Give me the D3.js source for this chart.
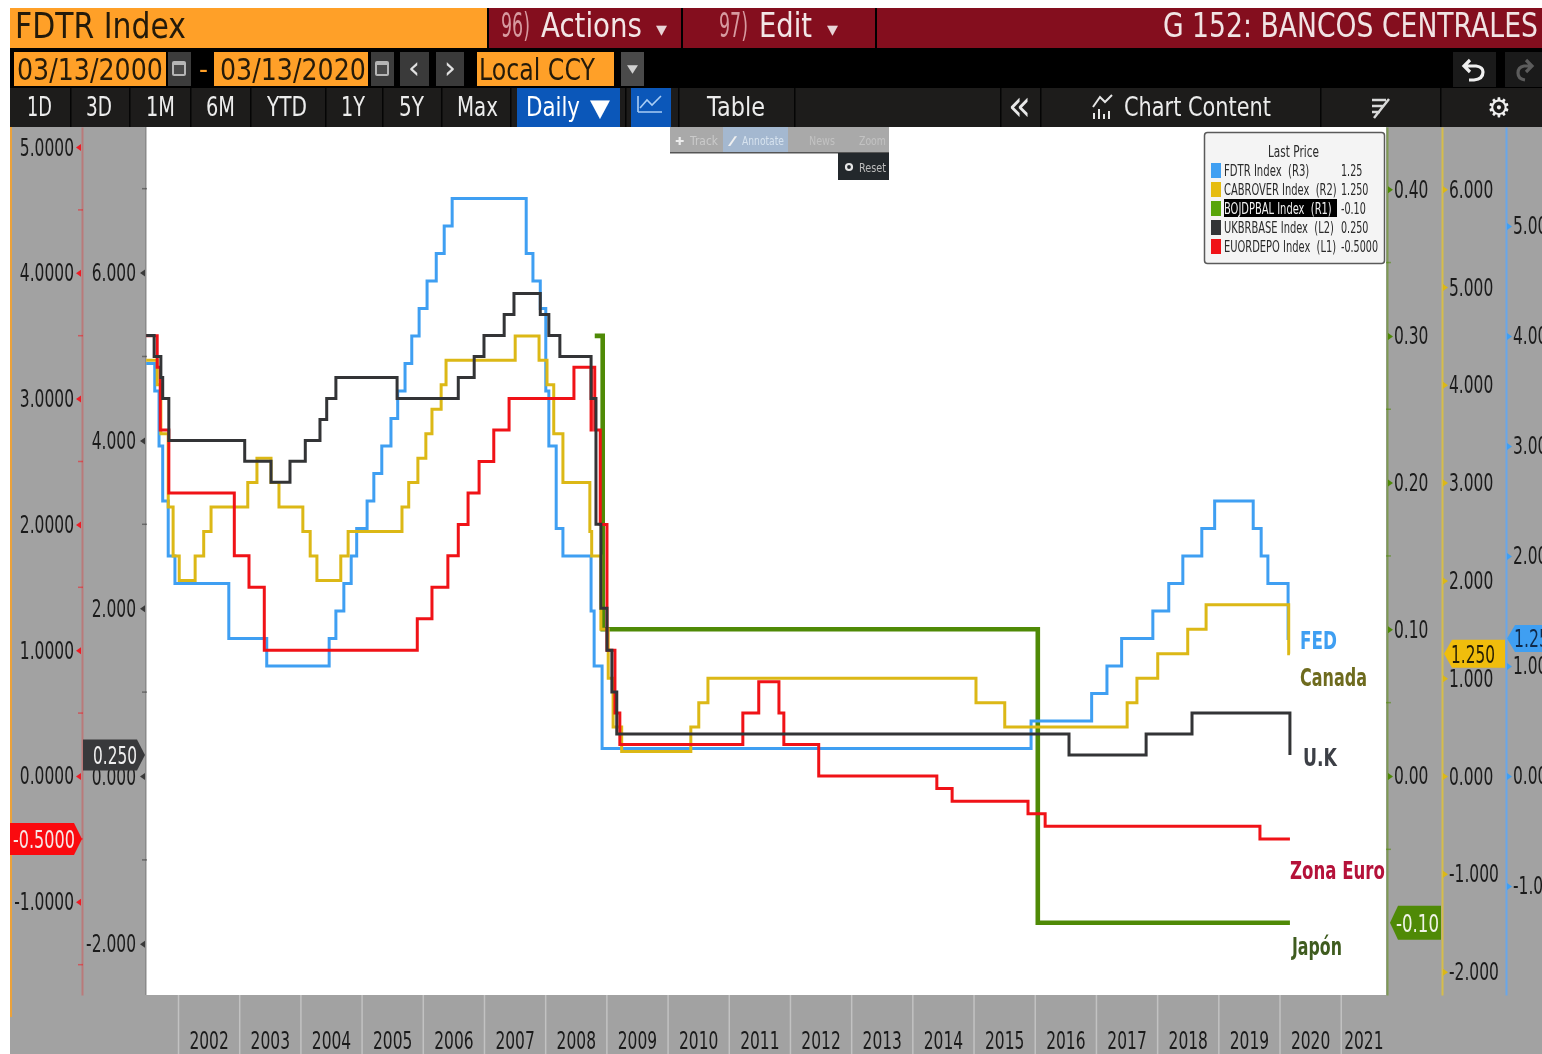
<!DOCTYPE html>
<html>
<head>
<meta charset="utf-8">
<title>G 152: BANCOS CENTRALES</title>
<script src="https://cdn.jsdelivr.net/npm/d3@7"></script>
<style>
  html, body { margin: 0; padding: 0; background: #fff; overflow: hidden; }
  svg { display: block; }
  text { font-family: "DejaVu Sans", sans-serif; white-space: pre; }
</style>
</head>
<body>
<svg id="chart" width="1542" height="1054"></svg>
<script>
// Policy rates, [decimal year, rate from that moment on].
const fedSteps = [[2001.48,3.75],[2001.62,3.5],[2001.69,3],[2001.75,2.5],[2001.84,2],[2001.95,1.75],[2002.83,1.25],[2003.45,1],
  [2004.47,1.25],[2004.58,1.5],[2004.71,1.75],[2004.83,2],[2004.92,2.25],[2005.09,2.5],[2005.2,2.75],[2005.33,3],[2005.48,3.25],
  [2005.59,3.5],[2005.71,3.75],[2005.82,4],[2005.94,4.25],[2006.07,4.5],[2006.22,4.75],[2006.35,5],[2006.48,5.25],[2007.69,4.75],
  [2007.8,4.5],[2007.92,4.25],[2008.01,3.5],[2008.06,3],[2008.18,2.25],[2008.29,2],[2008.75,1.5],[2008.8,1],[2008.93,0.25],
  [2015.94,0.5],[2016.93,0.75],[2017.18,1],[2017.42,1.25],[2017.93,1.5],[2018.19,1.75],[2018.42,2],[2018.73,2.25],[2018.94,2.5],
  [2019.57,2.25],[2019.7,2],[2019.81,1.75],[2020.14,1.25],[2020.17,1.25]];
const canadaSteps = [[2001.48,4.25],[2001.66,4],[2001.72,3.5],[2001.84,2.75],[2001.92,2.25],[2002.02,2],[2002.28,2.25],[2002.42,2.5],
  [2002.54,2.75],[2003.14,3],[2003.29,3.25],[2003.52,3],[2003.65,2.75],[2004.04,2.5],[2004.16,2.25],[2004.27,2],[2004.66,2.25],
  [2004.78,2.5],[2005.66,2.75],[2005.77,3],[2005.92,3.25],[2006.05,3.5],[2006.15,3.75],[2006.3,4],[2006.38,4.25],[2007.51,4.5],
  [2007.9,4.25],[2008.03,4],[2008.14,3.5],[2008.29,3],[2008.73,2.5],[2008.76,2.25],[2008.91,1.5],[2009.03,1],[2009.11,0.5],
  [2009.25,0.25],[2010.38,0.5],[2010.51,0.75],[2010.66,1],[2015.04,0.75],[2015.51,0.5],[2017.51,0.75],[2017.67,1],[2018.01,1.25],
  [2018.5,1.5],[2018.8,1.75],[2020.15,1.25],[2020.17,1.25]];
const japanSteps = [[2008.81,0.3],[2008.94,0.1],[2016.05,-0.1],[2020.17,-0.1]];
const ukSteps = [[2001.48,5.25],[2001.61,5],[2001.72,4.75],[2001.75,4.5],[2001.85,4],[2003.09,3.75],[2003.52,3.5],[2003.83,3.75],
  [2004.08,4],[2004.32,4.25],[2004.43,4.5],[2004.58,4.75],[2005.58,4.5],[2006.58,4.75],[2006.84,5],[2007,5.25],[2007.33,5.5],
  [2007.49,5.75],[2007.92,5.5],[2008.06,5.25],[2008.24,5],[2008.75,4.5],[2008.83,3],[2008.91,2],[2009.01,1.5],[2009.09,1],
  [2009.17,0.5],[2016.56,0.25],[2017.82,0.5],[2018.57,0.75],[2020.17,0.25]];
const euroSteps = [[2001.48,3.5],[2001.66,3.25],[2001.71,2.75],[2001.85,2.25],[2002.92,1.75],[2003.16,1.5],[2003.41,1],[2005.91,1.25],
  [2006.15,1.5],[2006.41,1.75],[2006.58,2],[2006.74,2.25],[2006.92,2.5],[2007.16,2.75],[2007.41,3],[2008.47,3.25],[2008.75,2.75],
  [2008.755,3.25],[2008.81,2.75],[2008.9,2],[2009.01,1],[2009.14,0.5],[2009.22,0.25],[2011.23,0.5],[2011.49,0.75],[2011.82,0.5],
  [2011.9,0.25],[2012.47,0],[2014.4,-0.1],[2014.65,-0.2],[2015.89,-0.3],[2016.17,-0.4],[2019.68,-0.5],[2020.17,-0.5]];

// Tick labels of the axes
const years = d3.range(2002, 2022);
const euroTicks = [5, 4, 3, 2, 1, 0, -1];
const euroMinor = [4.5, 3.5, 2.5, 1.5, 0.5, -0.5, -1.5];
const ukTicks = [6, 4, 2, 0, -2];
const ukMinor = [7, 5, 3, 1, -1];
const japanTicks = [0.4, 0.3, 0.2, 0.1, 0];
const japanMinor = [0.35, 0.25, 0.15, 0.05, -0.05];
const canadaTicks = [6, 5, 4, 3, 2, 1, 0, -1, -2];
const fedTicks = [5, 4, 3, 2, 1, 0, -1];

// Legend rows
const legendNames = ["FDTR Index  (R3)", "CABROVER Index  (R2)", "BOJDPBAL Index  (R1)", "UKBRBASE Index  (L2)", "EUORDEPO Index  (L1)"];
const legendLast = ["1.25", "1.250", "-0.10", "0.250", "-0.5000"];

const fedColor = "#3f9ff2", canadaColor = "#dcb816", japanColor = "#4f8a06", ukColor = "#333436", euroColor = "#f01217";
const legendColors = [fedColor, "#e6bc10", "#58a50a", ukColor, euroColor];

const plot = { left: 146, right: 1386, top: 127, bottom: 995 };
const panelGray = "#a2a2a2";
const xScale = d3.scaleLinear().domain([2001.477, 2021.74]).range([plot.left, plot.right]);
const yRange = [plot.bottom, plot.top];
const yEuro = d3.scaleLinear().domain([-1.741, 5.159]).range(yRange);
const yUk = d3.scaleLinear().domain([-2.61, 7.735]).range(yRange);
const yJapan = d3.scaleLinear().domain([-0.1493, 0.4424]).range(yRange);
const yCanada = d3.scaleLinear().domain([-2.239, 6.636]).range(yRange);
const yFed = d3.scaleLinear().domain([-1.991, 5.9]).range(yRange);

const svg = d3.select("#chart");
const root = svg.append("g").style("filter", "blur(0.55px)");

function box(x, y, w, h, fill) {
  return root.append("rect").attr("x", x).attr("y", y).attr("width", w).attr("height", h).attr("fill", fill);
}

// the original font is a squeezed one: narrow each text around its own x
function squeeze(sel, ratio) {
  sel.each(function () {
    const x = +this.getAttribute("x") || 0;
    this.setAttribute("transform", `translate(${x * (1 - ratio)},0) scale(${ratio},1)`);
  });
}

// text forced to an exact width
function label(parent, str, x, y, size, width, color, weight) {
  const t = parent.append("text").attr("x", x).attr("y", y).attr("font-size", size)
    .attr("fill", color).attr("font-weight", weight || "normal").text(str);
  squeeze(t, width / t.node().getComputedTextLength());
  return t;
}

// panels and plot area
box(10, 127, 1532, 927, panelGray);
box(plot.left, plot.top, plot.right - plot.left, plot.bottom - plot.top, "#fff");
box(10, 127, 2, 890, "#eca23a");
box(145, 127, 1.5, 868, "#8a8a8a");

// header, first row
box(10, 8, 1532, 40, "#000");
box(10, 8, 477, 40, "#ffa028");
box(489, 8, 192, 40, "#840e1e");
box(683, 8, 192, 40, "#840e1e");
box(877, 8, 665, 40, "#840e1e");
label(root, "FDTR Index", 15, 38, 35, 171, "#241a0a");
label(root, "96)", 501, 37, 33, 29, "#d79aa0");
label(root, "Actions", 541, 37, 34, 101, "#f3e6e6");
label(root, "\u25BE", 656, 36, 20, 11, "#e8d4d6");
label(root, "97)", 719, 37, 33, 29, "#d79aa0");
label(root, "Edit", 759, 37, 34, 53, "#f3e6e6");
label(root, "\u25BE", 827, 36, 20, 11, "#e8d4d6");
label(root, "G 152: BANCOS CENTRALES", 1163, 37, 34, 375, "#f1e4e4");

// header, second row
box(10, 48, 1532, 40, "#000");
box(14, 52, 152, 34, "#ffa028");
box(214, 52, 154, 34, "#ffa028");
box(477, 52, 137, 34, "#ffa028");
label(root, "03/13/2000", 17, 80, 30, 146, "#241a0a");
label(root, "03/13/2020", 220, 80, 30, 146, "#241a0a");
label(root, "Local CCY", 479, 80, 30, 116, "#241a0a");
label(root, "-", 199, 78, 26, 9, "#ffa028");
box(168, 52, 23, 34, "#3c3c3c");
box(371, 52, 23, 34, "#3c3c3c");
box(400, 52, 29, 34, "#3a3a3a");
box(436, 52, 28, 34, "#3a3a3a");
box(621, 52, 23, 34, "#4a4a4a");
box(1453, 52, 43, 35, "#1a1a1a");
box(1505, 52, 37, 35, "#1a1a1a");
[172, 375].forEach(x => {
  root.append("rect").attr("x", x).attr("y", 61).attr("width", 14).attr("height", 15).attr("rx", 2).attr("fill", "#b5b5b5");
  box(x + 2, 65, 10, 9, "#4a4a4a");
});
label(root, "\u2039", 408, 78, 30, 12, "#e0e0e0");
label(root, "\u203A", 444, 78, 30, 12, "#e0e0e0");
label(root, "\u25BE", 627, 74, 17, 11, "#d0d0d0");
root.append("path").attr("d", "M1470 60 L1464 66 L1470 72 M1465 66 H1476 Q1483 67 1483 72 Q1483 79 1474 80 H1469")
  .attr("fill", "none").attr("stroke", "#efefef").attr("stroke-width", 3.2);
root.append("path").attr("d", "M1526 60 L1532 66 L1526 72 M1531 66 H1524 Q1518 67 1518 73 Q1518 79 1525 80")
  .attr("fill", "none").attr("stroke", "#5c5c5c").attr("stroke-width", 3.2);

// header, third row
box(10, 88, 1532, 39, "#1d1c1b");
box(517, 88, 103, 39, "#0b57b9");
box(631, 88, 40, 39, "#0b57b9");
[70, 129, 190, 250, 325, 382, 441, 510, 625, 678, 794, 1000, 1040, 1320, 1440].forEach(x => box(x, 88, 1.5, 39, "#050505"));
label(root, "1D", 27, 116, 27, 25, "#ececec");
label(root, "3D", 86, 116, 27, 26, "#ececec");
label(root, "1M", 146, 116, 27, 29, "#ececec");
label(root, "6M", 206, 116, 27, 29, "#ececec");
label(root, "YTD", 267, 116, 27, 40, "#ececec");
label(root, "1Y", 341, 116, 27, 24, "#ececec");
label(root, "5Y", 399, 116, 27, 25, "#ececec");
label(root, "Max", 457, 116, 27, 41, "#ececec");
label(root, "Daily", 526, 116, 27, 54, "#ffffff");
label(root, "\u25BC", 590, 116, 24, 20, "#ffffff");
label(root, "Table", 707, 116, 27, 58, "#ececec");
label(root, "\u00AB", 1008, 120, 42, 23, "#e8e8e8");
label(root, "Chart Content", 1124, 116, 27, 147, "#ececec");
label(root, "\u2699", 1487, 117, 27, 24, "#f0f0f0");
root.append("path").attr("d", "M638 112 L662 112 M638 112 L638 96 M640 108 L647 100 L652 105 L661 96")
  .attr("fill", "none").attr("stroke", "#a9cdf5").attr("stroke-width", 1.6);
root.append("path").attr("d", "M1093 107 L1100 97 L1105 102 L1112 95 M1094 119 V113 M1099 119 V109 M1104 119 V114 M1109 119 V111")
  .attr("fill", "none").attr("stroke", "#e6e6e6").attr("stroke-width", 2);
root.append("path").attr("d", "M1372 100 H1386 M1372 106 H1384 M1372 112 H1380 M1374 118 L1389 99")
  .attr("fill", "none").attr("stroke", "#d8d8d8").attr("stroke-width", 2.5);

// x axis: year boundaries with the label in the middle of each year
const xAxis = d3.axisBottom(xScale).tickValues(years).tickFormat(d3.format("d")).tickSize(59).tickPadding(0);
const xAxisG = root.append("g").attr("transform", `translate(0,${plot.bottom})`).call(xAxis);
xAxisG.select(".domain").remove();
xAxisG.selectAll(".tick line").attr("stroke", "#c2c2c2").attr("stroke-width", 1.5);
xAxisG.selectAll(".tick text")
  .attr("x", d => (xScale(Math.min(d + 1, 2021.74)) - xScale(d)) / 2)
  .attr("y", 36).attr("dy", "0.71em")
  .attr("font-size", 25).attr("fill", "#1b1b1b").attr("font-family", "DejaVu Sans");
squeeze(xAxisG.selectAll(".tick text"), 0.62);

// five value axes, the little triangles replace the tick lines
function valueAxis(scale, ticks, minor, x, side, padding, fmt, lineColor, tickColor) {
  const maker = side === "left" ? d3.axisLeft(scale) : d3.axisRight(scale);
  const format = d3.format(fmt);
  maker.tickValues(ticks).tickFormat(d => format(d).replace("\u2212", "-")).tickSize(0).tickPadding(padding);
  const g = root.append("g").attr("transform", `translate(${x},0)`).call(maker);
  g.select(".domain").attr("stroke", lineColor).attr("stroke-width", 2);
  g.selectAll(".tick text").attr("font-size", 25).attr("fill", "#1b1b1b").attr("font-family", "DejaVu Sans");
  squeeze(g.selectAll(".tick text"), 0.62);
  const dir = side === "left" ? -1 : 1;
  g.selectAll(".tick").append("path")
    .attr("d", `M${dir * 1} -3.5 L${dir * 6} 0 L${dir * 1} 3.5 Z`).attr("fill", tickColor);
  g.selectAll(".minor").data(minor).enter().append("line")
    .attr("class", "minor")
    .attr("x1", dir * -1).attr("x2", dir * 4)
    .attr("y1", d => scale(d)).attr("y2", d => scale(d))
    .attr("stroke", tickColor).attr("stroke-width", 1.5).attr("opacity", 0.55);
  return g;
}

valueAxis(yEuro, euroTicks, euroMinor, 82, "left", 8, ".4f", "#b97a7a", "#ee1c25");
valueAxis(yUk, ukTicks, ukMinor, 146, "left", 10, ".3f", "none", "#3a3a3a");
valueAxis(yJapan, japanTicks, japanMinor, 1387, "right", 7, ".2f", "#7f9a55", "#4f8a06");
valueAxis(yCanada, canadaTicks, [], 1442, "right", 7, ".3f", "#d6bd4a", "#dcb816");
valueAxis(yFed, fedTicks, [], 1506, "right", 7, ".3f", "#69a6e8", "#3f9ff2");

// step lines: green lies under everything, the UK line ends on top
function stepLine(steps, scale, color, width) {
  const line = d3.line().x(d => xScale(d[0])).y(d => scale(d[1])).curve(d3.curveStepAfter);
  root.append("path").datum(steps).attr("d", line).attr("fill", "none")
    .attr("stroke", color).attr("stroke-width", width).attr("stroke-linejoin", "miter");
}
stepLine(japanSteps, yJapan, japanColor, 4.6);
stepLine(fedSteps, yFed, fedColor, 3);
stepLine(canadaSteps, yCanada, canadaColor, 3);
stepLine(euroSteps, yEuro, euroColor, 3);
stepLine(ukSteps, yUk, ukColor, 3);

// names next to the line ends
label(root, "FED", 1300, 649, 24, 37, fedColor, "bold");
label(root, "Canada", 1300, 686, 24, 67, "#6e6b1e", "bold");
label(root, "U.K", 1303, 766, 24, 34, "#3c3f46", "bold");
label(root, "Zona Euro", 1290, 879, 24, 95, "#b5123a", "bold");
label(root, "Japón", 1292, 955, 24, 50, "#3f5c1f", "bold");

// last value flags
function flag(x0, x1, yMid, h, pointRight, fill, txt, txtX, txtW, txtColor) {
  const top = yMid - h / 2, bot = yMid + h / 2;
  const d = pointRight
    ? `M${x0} ${top} L${x1 - 8} ${top} L${x1} ${yMid} L${x1 - 8} ${bot} L${x0} ${bot} Z`
    : `M${x1} ${top} L${x0 + 8} ${top} L${x0} ${yMid} L${x0 + 8} ${bot} L${x1} ${bot} Z`;
  root.append("path").attr("d", d).attr("fill", fill);
  label(root, txt, txtX, yMid + 9, 25, txtW, txtColor);
}
flag(10, 82, yEuro(-0.5), 32, true, "#fa0a0f", legendLast[4], 13, 62, "#f6e6e6");
flag(83, 145, yUk(0.25), 31, true, "#38393b", legendLast[3], 93, 44, "#f0f0f0");
flag(1390, 1441, yJapan(-0.1), 34, false, "#4f8a06", legendLast[2], 1396, 43, "#f0f4e8");
flag(1444, 1505, yCanada(1.25), 28, false, "#f0bd0c", legendLast[1], 1451, 44, "#231c05");
flag(1507, 1560, yFed(1.25), 27, false, "#3f9ff2", legendLast[0], 1514, 35, "#102a4a");

// little hover toolbar that was caught in the screenshot
box(670, 127, 219, 26, "#a9a9a9");
box(723, 127, 65, 26, "#a4b8d0");
box(670, 152, 219, 1.5, "#555");
label(root, "\u271A", 675, 145, 11, 9, "#ececec");
label(root, "Track", 690, 145, 13, 28, "#cacaca");
label(root, "\u2215", 728, 145, 12, 9, "#f0f0f0");
label(root, "Annotate", 742, 145, 13, 42, "#d6e2ee");
label(root, "News", 809, 145, 13, 26, "#c2c2c2");
label(root, "Zoom", 859, 145, 13, 27, "#c2c2c2");
box(838, 153, 51, 27, "#23282c");
root.append("circle").attr("cx", 849).attr("cy", 167).attr("r", 3).attr("fill", "none").attr("stroke", "#e6e6e6").attr("stroke-width", 2.2);
label(root, "Reset", 859, 172, 13, 27, "#bcbcbc");

// legend box
root.append("rect").attr("x", 1204.5).attr("y", 132.5).attr("width", 180).attr("height", 131).attr("rx", 3)
  .attr("fill", "#f4f4f4").attr("stroke", "#5a5a5a").attr("stroke-width", 1.5);
label(root, "Last Price", 1268, 157, 15, 51, "#2a2a2a");
const legendRow = d3.scaleBand().domain(legendNames).range([161, 256]);
const legendG = root.append("g");
legendG.selectAll(".swatch").data(legendNames).enter().append("rect")
  .attr("class", "swatch").attr("x", 1211).attr("y", d => legendRow(d) + 2).attr("width", 10).attr("height", 15)
  .attr("fill", (d, i) => legendColors[i]);
box(1224, 199, 113, 18, "#000");
legendNames.forEach((name, i) => {
  const rowY = legendRow(name) + 15;
  const t = root.append("text").attr("x", 1224).attr("y", rowY).attr("font-size", 16)
    .attr("fill", i === 2 ? "#f0f0f0" : "#2a2a2a").text(name);
  squeeze(t, i === 0 ? 0.63 : 0.62);
  const v = root.append("text").attr("x", 1341).attr("y", rowY).attr("font-size", 16).attr("fill", "#2a2a2a").text(legendLast[i]);
  squeeze(v, 0.6);
});
</script>
</body>
</html>
